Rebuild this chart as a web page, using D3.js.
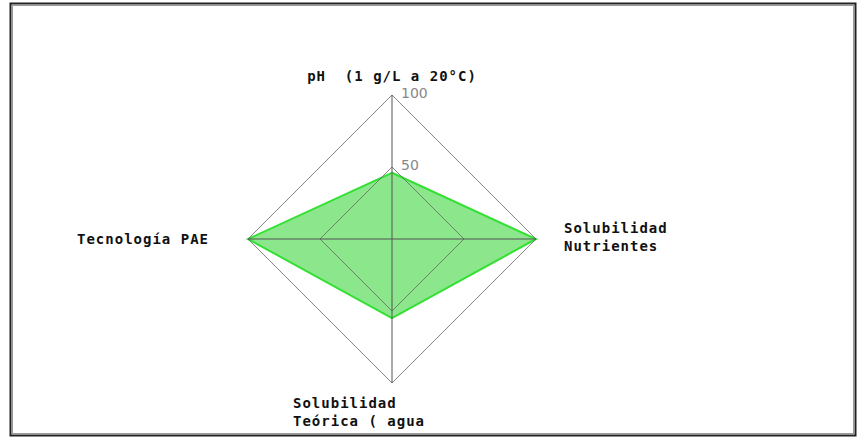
<!DOCTYPE html>
<html><head><meta charset="utf-8">
<script src="https://cdn.jsdelivr.net/npm/d3@7"></script>
<style>html,body{margin:0;padding:0;background:#fff;} text{white-space:pre;}</style>
</head><body>
<svg id="c" width="861" height="441"></svg>
<script>
const axes = [["pH  (1 g/L a 20°C)"], ["Solubilidad", "Nutrientes"], ["Solubilidad", "Teórica ( agua"], ["Tecnología PAE"]];
const values = [46, 100, 55, 100];
const tickValues = [50, 100];
const tickLabels = ["50", "100"];

const svg = d3.select("#c");
const cx = 392, cy = 239, R = 144;
const r = d3.scaleLinear().domain([0, 100]).range([0, R]);
const ang = d3.scaleLinear().domain([0, axes.length]).range([0, 2 * Math.PI]);
const pt = (i, v) => [cx + r(v) * Math.sin(ang(i)), cy - r(v) * Math.cos(ang(i))];

svg.append("defs").append("clipPath").attr("id", "clip")
  .append("rect").attr("x", 12).attr("y", 5).attr("width", 842).attr("height", 429);
const g = svg.append("g").attr("clip-path", "url(#clip)");

// data
g.append("polygon")
  .attr("points", values.map((v, i) => pt(i, v).join(",")).join(" "))
  .attr("fill", "rgb(140,230,140)").attr("stroke", "#33e033").attr("stroke-width", 2);
// grid
tickValues.forEach(t => {
  g.append("polygon")
    .attr("points", axes.map((a, i) => pt(i, t).join(",")).join(" "))
    .attr("fill", "none").attr("stroke", "#666").attr("stroke-opacity", 0.8).attr("stroke-width", 1);
});
// spokes
axes.forEach((a, i) => {
  const p = pt(i, 100);
  g.append("line").attr("x1", cx).attr("y1", cy).attr("x2", p[0]).attr("y2", p[1])
    .attr("stroke", "#555").attr("stroke-width", 1);
});
// tick labels
tickValues.forEach((t, k) => {
  const p = pt(0, t);
  g.append("text").attr("x", p[0] + 9).attr("y", p[1] + 3).text(tickLabels[k])
    .attr("font-family", "DejaVu Sans, sans-serif").attr("font-size", 14).attr("fill", "#888");
});
// axis labels
const lab = (lines, x, y, anchor) => {
  const t = g.append("text").attr("font-family", "DejaVu Sans Mono, monospace")
    .attr("font-weight", "bold").attr("font-size", 14).attr("letter-spacing", 1)
    .attr("fill", "#111").attr("text-anchor", anchor).attr("xml:space", "preserve");
  lines.forEach((l, j) => t.append("tspan").attr("x", x).attr("y", y + j * 18).text(l));
};
const p0 = pt(0, 100), p1 = pt(1, 100), p2 = pt(2, 100), p3 = pt(3, 100);
lab(axes[0], p0[0], p0[1] - 14, "middle");
lab(axes[1], p1[0] + 28, p1[1] - 6, "start");
lab(axes[2], 293, p2[1] + 25, "start");
lab(axes[3], p3[0] - 39, p3[1] + 5, "end");

// frame
svg.append("rect").attr("x", 10.5).attr("y", 3.5).attr("width", 845).attr("height", 432)
  .attr("fill", "none").attr("stroke", "#222").attr("stroke-width", 2);
svg.append("rect").attr("x", 12.5).attr("y", 5.5).attr("width", 841).attr("height", 428)
  .attr("fill", "none").attr("stroke", "#999").attr("stroke-width", 1);
</script>
</body></html>
